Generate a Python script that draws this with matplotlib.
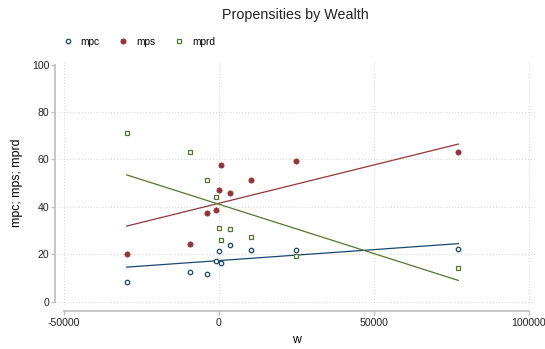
import numpy as np
import matplotlib
matplotlib.use('Agg')
import matplotlib.pyplot as plt

plt.rcParams['font.family'] = ['Liberation Sans', 'DejaVu Sans']
plt.rcParams['axes.unicode_minus'] = False

# wealth groups and the three propensities (they add up to ~100)
w = [-29810, -9270, -3970, -1070, -100, 650, 3550, 10430, 24970, 77300]
mpc = [8.4, 12.5, 11.7, 17.2, 21.5, 16.5, 23.9, 21.8, 21.7, 22.4]
mps = [20.0, 24.3, 37.3, 38.7, 47.3, 57.7, 45.9, 51.2, 59.2, 63.3]
mprd = [71.3, 63.2, 51.2, 44.3, 31.1, 26.0, 30.5, 27.2, 19.3, 14.3]

# linear fits (intercept, slope) estimated on the underlying sample
fit_mpc = [17.36, 9.24e-5]
fit_mps = [41.53, 3.230e-4]
fit_mprd = [41.11, -4.155e-4]

xticks = [-50000, 0, 50000, 100000]
yticks = [0, 20, 40, 60, 80, 100]

navy = '#1a476f'
maroon = '#90353b'
green = '#55752f'
axis_gray = '#bdbdbd'

fig = plt.figure(figsize=(5.45, 3.49), dpi=100)
ax = fig.add_axes([0.1064, 0.1252, 0.8749, 0.7032])

x = np.array(w, dtype=float)
xs = np.array([x.min(), x.max()])

series = [
    ('mpc', mpc, fit_mpc, navy, dict(marker='o', markersize=3.2, markerfacecolor='white',
                                     markeredgewidth=0.9)),
    ('mps', mps, fit_mps, maroon, dict(marker='o', markersize=3.8, markerfacecolor=maroon,
                                       markeredgewidth=0.5)),
    ('mprd', mprd, fit_mprd, green, dict(marker='s', markersize=3.3, markerfacecolor='white',
                                         markeredgewidth=0.9)),
]

handles = []
for name, vals, fit, col, mk in series:
    h, = ax.plot(w, vals, linestyle='none', color=col, markeredgecolor=col,
                 label=name, zorder=3, **mk)
    handles.append(h)

# fitted lines over the observed range of w
for name, vals, fit, col, mk in series:
    a, b = fit
    ax.plot(xs, a + b * xs, color=col, linewidth=0.9, zorder=2)

ax.set_xlim(-52000, 102000)
ax.set_ylim(-1.5, 102)
ax.set_xticks(xticks)
ax.set_yticks(yticks)
ax.set_xticklabels([str(t) for t in xticks])
ax.set_yticklabels([str(t) for t in yticks])

for s in ['top', 'right']:
    ax.spines[s].set_visible(False)
ax.spines['left'].set_position(('outward', 2.2))
ax.spines['bottom'].set_position(('outward', 3.9))
ax.spines['left'].set_bounds(0, 100)
ax.spines['bottom'].set_bounds(-50000, 100000)
for s in ['left', 'bottom']:
    ax.spines[s].set_color(axis_gray)
    ax.spines[s].set_linewidth(1.2)

ax.tick_params(axis='both', colors=axis_gray, labelcolor='#222222',
               labelsize=7.6, length=3, width=0.9)
ax.tick_params(axis='y', pad=1.2)
ax.tick_params(axis='x', pad=2.5)

ax.grid(True, color='#d4d4d4', linestyle=(0, (1, 2)), linewidth=0.7)
ax.yaxis.get_gridlines()[-1].set_visible(False)
ax.set_axisbelow(True)

ax.set_xlabel('w', fontsize=8.8, labelpad=4)
ax.set_ylabel('mpc; mps; mprd', fontsize=8.8, labelpad=6)

fig.text(295.5 / 545, 1 - 15 / 349, 'Propensities by Wealth', fontsize=10.3,
         ha='center', va='center', color='#222222')

fig.legend(handles=handles, loc='upper left', bbox_to_anchor=(63.5 / 545, 1 - 37 / 349),
           ncol=3, frameon=False, fontsize=7.3, handlelength=0.8,
           handletextpad=0.9, columnspacing=1.9, borderpad=0, borderaxespad=0)

fig.savefig('out.png', dpi=100)
